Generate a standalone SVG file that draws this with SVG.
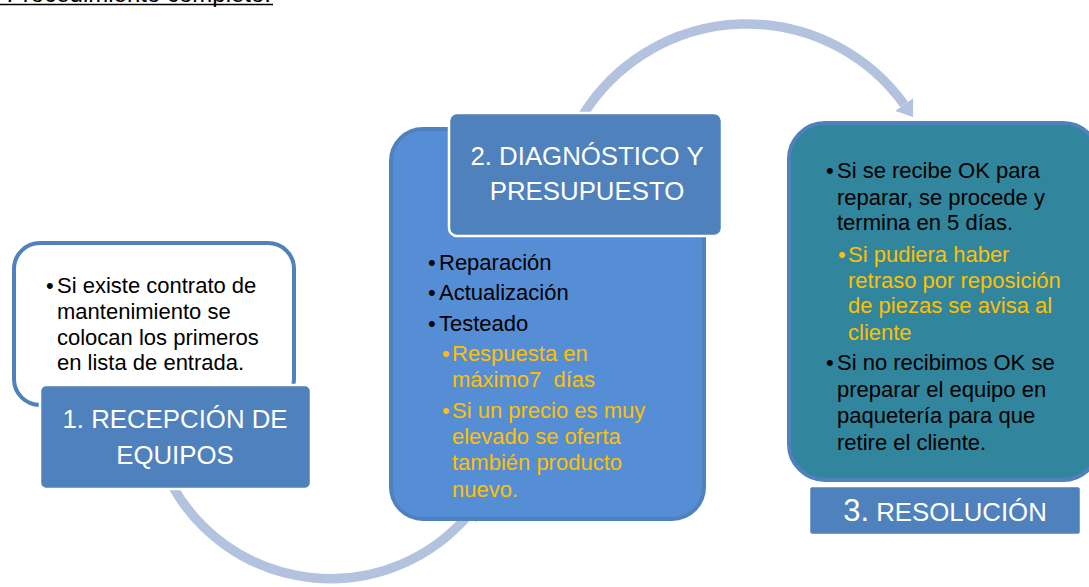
<svg xmlns="http://www.w3.org/2000/svg" width="1089" height="587" viewBox="0 0 1089 587">
<style>
text{font-family:"Liberation Sans",Arial,sans-serif}
.arc{fill:none;stroke:#B3C3DF;stroke-width:9.5}
.head{fill:#B3C3DF}
.title{fill:#4F81BD;stroke:#FFFFFF;stroke-width:2.5}
.tt{fill:#FFFFFF;font-size:25.8px;text-anchor:middle}
.b{fill:#000000;font-size:22px}
.o{fill:#FFC000;font-size:22px}
</style>
<rect width="1089" height="587" fill="#FFFFFF"/>
<g id="header">
<text x="271" y="1.5" font-size="24" text-anchor="end" fill="#000000">Procedimiento completo:</text>
<line x1="0" y1="4.5" x2="273" y2="4.5" stroke="#000000" stroke-width="1.6"/>
</g>
<g id="connectors">
<path class="arc" d="M 171.9 485 A 181 181 0 0 0 467.9 515.5"/>
<polygon class="head" points="476.3,522.6 477.5,504 459.5,508.4"/>
<path class="arc" d="M 582.9 115 A 193.5 193.5 0 0 1 904.2 104.6"/>
<polygon class="head" points="913.1,98.2 913,117 895.3,111"/>
</g>
<g id="node1">
<rect x="14" y="243" width="280" height="162" rx="26" fill="#FFFFFF" stroke="#4F81BD" stroke-width="4"/>
<text class="b" y="293"><tspan x="46">•</tspan><tspan x="57">Si existe contrato de</tspan></text>
<text class="b" x="57" y="319">mantenimiento se</text>
<text class="b" x="57" y="344.5">colocan los primeros</text>
<text class="b" x="57" y="370">en lista de entrada.</text>
<rect class="title" x="40" y="385" width="271" height="104" rx="6"/>
<text class="tt" x="175" y="428">1. RECEPCIÓN DE</text>
<text class="tt" x="175" y="464">EQUIPOS</text>
</g>
<g id="node2">
<rect x="391" y="129" width="313" height="390" rx="32" fill="#558ED5" stroke="#4F81BD" stroke-width="4"/>
<rect class="title" x="449" y="113" width="273" height="123" rx="8"/>
<text class="tt" x="587" y="165">2. DIAGNÓSTICO Y</text>
<text class="tt" x="587" y="200">PRESUPUESTO</text>
<text class="b" y="270"><tspan x="428">•</tspan><tspan x="439">Reparación</tspan></text>
<text class="b" y="300"><tspan x="428">•</tspan><tspan x="439">Actualización</tspan></text>
<text class="b" y="331"><tspan x="428">•</tspan><tspan x="439">Testeado</tspan></text>
<text class="o" y="361"><tspan x="442">•</tspan><tspan x="452">Respuesta en</tspan></text>
<text class="o" x="452" y="387" style="white-space:pre" xml:space="preserve">máximo7  días</text>
<text class="o" y="418"><tspan x="442">•</tspan><tspan x="452">Si un precio es muy</tspan></text>
<text class="o" x="452" y="444">elevado se oferta</text>
<text class="o" x="452" y="470">también producto</text>
<text class="o" x="452" y="497">nuevo.</text>
</g>
<g id="node3">
<rect x="789" y="123" width="310" height="357" rx="36" fill="#31859C" stroke="#4F81BD" stroke-width="4"/>
<text class="b" y="178"><tspan x="826">•</tspan><tspan x="837">Si se recibe OK para</tspan></text>
<text class="b" x="837" y="205">reparar, se procede y</text>
<text class="b" x="837" y="230">termina en 5 días.</text>
<text class="o" y="262"><tspan x="838">•</tspan><tspan x="848">Si pudiera haber</tspan></text>
<text class="o" x="848" y="288">retraso por reposición</text>
<text class="o" x="848" y="313">de piezas se avisa al</text>
<text class="o" x="848" y="340">cliente</text>
<text class="b" y="370"><tspan x="826">•</tspan><tspan x="837">Si no recibimos OK se</tspan></text>
<text class="b" x="837" y="397">preparar el equipo en</text>
<text class="b" x="837" y="423">paquetería para que</text>
<text class="b" x="837" y="450">retire el cliente.</text>
<rect class="title" x="809" y="486" width="272" height="49" rx="3"/>
<text class="tt" x="945" y="521"><tspan font-size="31px">3.</tspan> RESOLUCIÓN</text>
</g>
</svg>
